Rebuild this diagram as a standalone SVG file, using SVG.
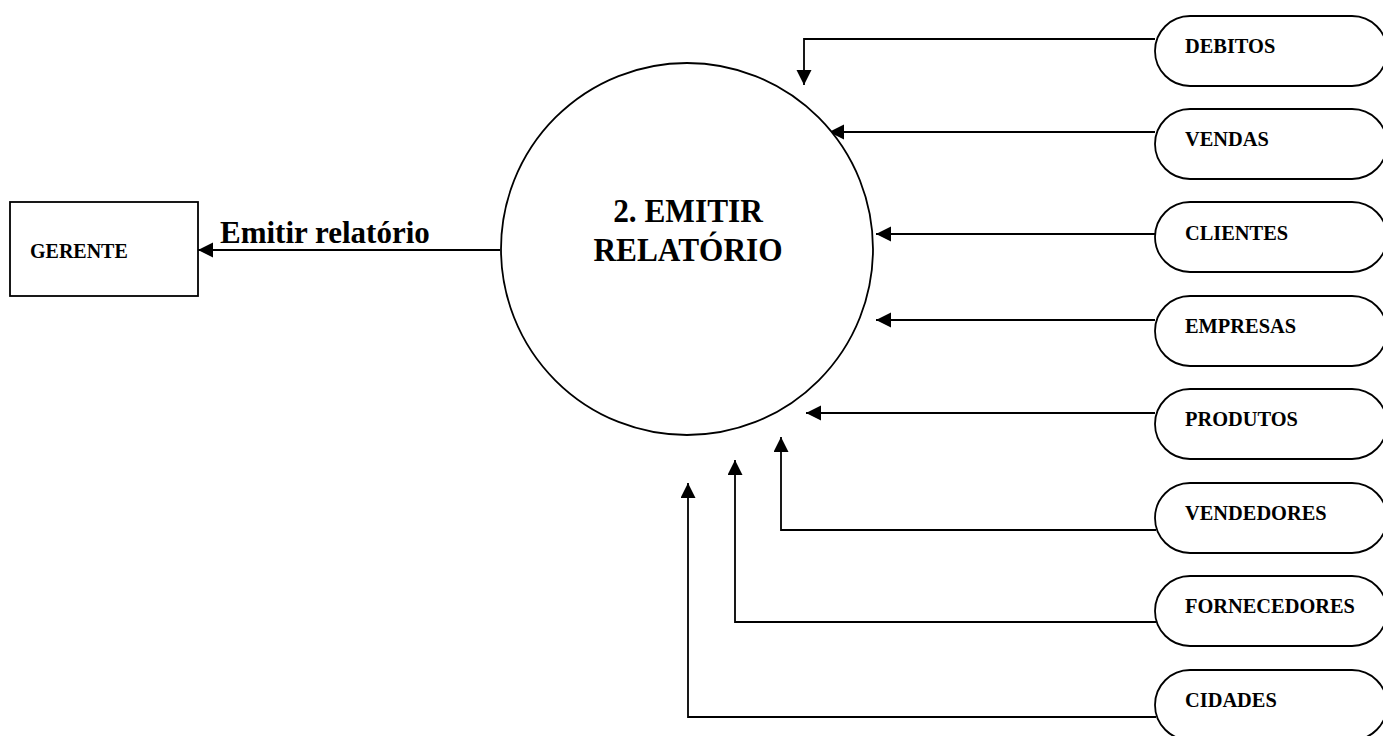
<svg xmlns="http://www.w3.org/2000/svg" width="1383" height="736" viewBox="0 0 1383 736">
<style>
.shape{fill:#fff;stroke:#000;stroke-width:1.8}
.conn{fill:none;stroke:#000;stroke-width:1.8}
.t{font-family:"Liberation Serif","Times New Roman",serif;font-weight:bold;fill:#000}
.pill{font-size:20.4px}
</style>
<defs>
<marker id="ah" markerUnits="userSpaceOnUse" markerWidth="16" markerHeight="16" refX="15" refY="7.5" orient="auto">
<path d="M0,0 L15,7.5 L0,15 z" fill="#000"/>
</marker>
</defs>
<rect width="1383" height="736" fill="#fff"/>
<g id="connectors">
<path class="conn" d="M500,250 L198,250" marker-end="url(#ah)"/>
<path class="conn" d="M1155,39 L804,39 L804,85" marker-end="url(#ah)"/>
<path class="conn" d="M1155,132 L829,132" marker-end="url(#ah)"/>
<path class="conn" d="M1155,234 L876,234" marker-end="url(#ah)"/>
<path class="conn" d="M1155,320 L876,320" marker-end="url(#ah)"/>
<path class="conn" d="M1155,413 L806,413" marker-end="url(#ah)"/>
<path class="conn" d="M1156,530 L781,530 L781,437" marker-end="url(#ah)"/>
<path class="conn" d="M1156,622 L735,622 L735,460" marker-end="url(#ah)"/>
<path class="conn" d="M1156,717 L688,717 L688,483" marker-end="url(#ah)"/>
<text class="t" x="220" y="243" font-size="31">Emitir relatório</text>
</g>
<g id="gerente">
<rect class="shape" x="10" y="202" width="188" height="94"/>
<text class="t" x="30" y="258" font-size="20">GERENTE</text>
</g>
<g id="processo">
<circle class="shape" cx="687" cy="249" r="186"/>
<text class="t" font-size="33" text-anchor="middle" transform="translate(688,222) scale(0.95,1)">2. EMITIR</text>
<text class="t" font-size="33" text-anchor="middle" transform="translate(688,261) scale(0.95,1)">RELATÓRIO</text>
</g>
<g id="debitos"><rect class="shape" x="1155" y="16" width="232" height="70" rx="35"/><text class="t pill" x="1185" y="53">DEBITOS</text></g>
<g id="vendas"><rect class="shape" x="1155" y="109" width="232" height="70" rx="35"/><text class="t pill" x="1185" y="146">VENDAS</text></g>
<g id="clientes"><rect class="shape" x="1155" y="202" width="232" height="70" rx="35"/><text class="t pill" x="1185" y="240">CLIENTES</text></g>
<g id="empresas"><rect class="shape" x="1155" y="296" width="232" height="70" rx="35"/><text class="t pill" x="1185" y="333">EMPRESAS</text></g>
<g id="produtos"><rect class="shape" x="1155" y="389" width="232" height="70" rx="35"/><text class="t pill" x="1185" y="426">PRODUTOS</text></g>
<g id="vendedores"><rect class="shape" x="1155" y="483" width="232" height="70" rx="35"/><text class="t pill" x="1185" y="520">VENDEDORES</text></g>
<g id="fornecedores"><rect class="shape" x="1155" y="576" width="232" height="70" rx="35"/><text class="t pill" x="1185" y="613">FORNECEDORES</text></g>
<g id="cidades"><rect class="shape" x="1155" y="670" width="232" height="70" rx="35"/><text class="t pill" x="1185" y="707">CIDADES</text></g>
</svg>
